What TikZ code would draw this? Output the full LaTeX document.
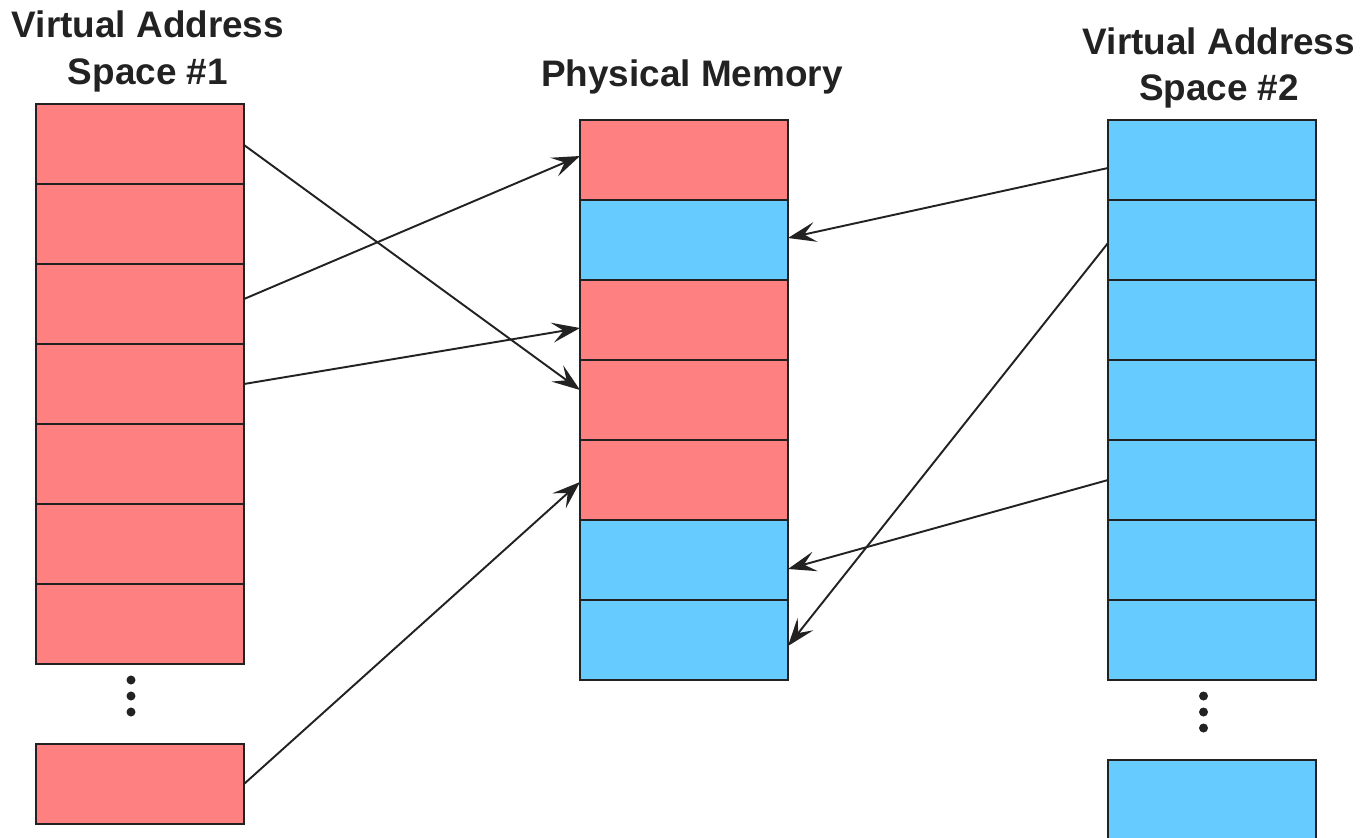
\documentclass[tikz,border=0pt]{standalone}
\usepackage{fontspec}
\setmainfont{Liberation Sans}
\usepackage{tikz}
\usetikzlibrary{arrows.meta}
\definecolor{pagered}{HTML}{FF8080}
\definecolor{pageblue}{HTML}{66CCFF}
\definecolor{ink}{HTML}{222222}
\begin{document}
\begin{tikzpicture}[-{Stealth[length=5.6mm,width=4mm,inset=2.3mm]},
         line width=1.1pt, draw=ink]
  \tikzstyle{cell}=[draw=ink, line width=1.4pt, shape=rectangle, outer sep=0pt,
                    minimum width=4.16cm, minimum height=1.6cm]
  \tikzstyle{redcell}=[cell, fill=pagered]
  \tikzstyle{bluecell}=[cell, fill=pageblue]
  \tikzstyle{title}=[draw=none, align=center, text=ink,
                     font=\bfseries\fontsize{21}{26.6}\selectfont]
  \tikzstyle{dot}=[draw=none, fill=ink, shape=circle, inner sep=0pt, minimum size=0.18cm]
\useasboundingbox (0,0) rectangle (27.2,-16.74);
% titles
\node[title] (t1) at (2.96,-1.03) {Virtual Address\\Space \#1};
\node[title] (t2) at (13.84,-1.54) {Physical Memory};
\node[title] (t3) at (24.38,-1.36) {Virtual Address\\Space \#2};
% virtual address space 1
\foreach \i in {1,...,7}
  \node[redcell] (l\i) at (2.8,{-2.88-1.6*(\i-1)}) {};
\foreach \k in {0,1,2}
  \node[dot] (ld\k) at (2.62,{-13.6-0.32*\k}) {};
\node[redcell] (lb) at (2.8,-15.68) {};
% physical memory
\foreach \i/\c in {1/redcell,2/bluecell,3/redcell,4/redcell,5/redcell,6/bluecell,7/bluecell}
  \node[\c] (m\i) at (13.68,{-3.2-1.6*(\i-1)}) {};
% virtual address space 2
\foreach \i in {1,...,7}
  \node[bluecell] (r\i) at (24.24,{-3.2-1.6*(\i-1)}) {};
\foreach \k in {0,1,2}
  \node[dot] (rd\k) at (24.07,{-13.92-0.32*\k}) {};
\node[bluecell] (rb) at (24.24,-16.0) {};
% mappings
\path
([yshift=-0.02cm]l1.east) edge ([yshift=0.2cm]m4.west)
([yshift=0.1cm]l3.east) edge ([yshift=0.08cm]m1.west)
(l4.east) edge ([yshift=-0.16cm]m3.west)
(lb.east) edge ([yshift=-0.04cm]m5.west)
([yshift=-0.16cm]r1.west) edge ([yshift=0.04cm]m2.east)
([yshift=-0.06cm]r2.west) edge ([yshift=-0.12cm]m7.east)
(r5.west) edge ([yshift=-0.18cm]m6.east);
\end{tikzpicture}
\end{document}
